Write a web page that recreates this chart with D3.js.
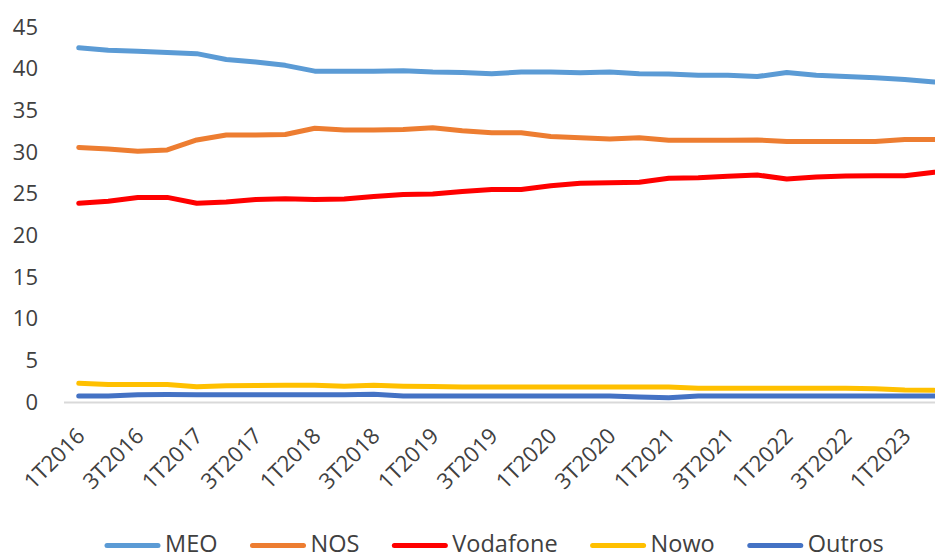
<!DOCTYPE html>
<html>
<head>
<meta charset="utf-8">
<script src="https://cdn.jsdelivr.net/npm/d3@7"></script>
<style>
  body { margin: 0; background: #fff; }
  svg { display: block; font-family: "Open Sans", sans-serif; }
</style>
</head>
<body>
<svg width="935" height="556"></svg>
<script>
"use strict";

// Data.

var quarters = ["1T2016","2T2016","3T2016","4T2016","1T2017","2T2017","3T2017","4T2017",
                "1T2018","2T2018","3T2018","4T2018","1T2019","2T2019","3T2019","4T2019",
                "1T2020","2T2020","3T2020","4T2020","1T2021","2T2021","3T2021","4T2021",
                "1T2022","2T2022","3T2022","4T2022","1T2023","2T2023"];

var meo = [42.5, 42.2, 42.1, 41.95, 41.8, 41.1, 40.8, 40.4, 39.7, 39.7, 39.7, 39.75, 39.6, 39.55, 39.4,
           39.6, 39.6, 39.5, 39.6, 39.4, 39.35, 39.2, 39.2, 39.05, 39.55, 39.2, 39.05, 38.9, 38.7, 38.4];
var nos = [30.55, 30.35, 30.1, 30.25, 31.45, 32.05, 32.05, 32.1, 32.85, 32.65, 32.65, 32.7, 32.9, 32.55, 32.3,
           32.3, 31.85, 31.7, 31.55, 31.7, 31.4, 31.4, 31.4, 31.45, 31.25, 31.25, 31.25, 31.25, 31.5, 31.5];
var vodafone = [23.85, 24.1, 24.55, 24.55, 23.85, 24.0, 24.3, 24.4, 24.3, 24.35, 24.65, 24.9, 24.95, 25.25, 25.5,
                25.5, 25.95, 26.25, 26.3, 26.36, 26.84, 26.92, 27.08, 27.24, 26.76, 27.0, 27.12, 27.16, 27.16, 27.56];
var nowo = [2.24, 2.1, 2.1, 2.1, 1.84, 1.96, 1.98, 2.02, 2.02, 1.9, 2.0, 1.9, 1.85, 1.8, 1.8,
            1.8, 1.8, 1.8, 1.8, 1.8, 1.8, 1.65, 1.65, 1.65, 1.65, 1.65, 1.65, 1.6, 1.45, 1.4];
var outros = [0.72, 0.72, 0.88, 0.9, 0.88, 0.88, 0.88, 0.88, 0.88, 0.88, 0.92, 0.72, 0.72, 0.72, 0.72,
              0.72, 0.72, 0.72, 0.72, 0.6, 0.5, 0.72, 0.72, 0.72, 0.72, 0.72, 0.72, 0.72, 0.72, 0.72];

var seriesNames = ["MEO", "NOS", "Vodafone", "Nowo", "Outros"];
var seriesValues = [meo, nos, vodafone, nowo, outros];
var seriesColors = ["#5B9BD5", "#ED7D31", "#FF0000", "#FFC000", "#4472C4"];

var yTicks = [0, 5, 10, 15, 20, 25, 30, 35, 40, 45];

// Layout.

var svg = d3.select("svg");
var PlotLeft = 64;
var Band = 29.5;
var PlotTop = 27;
var PlotBottom = 402;
var TextColor = "#404040";
var LineWidth = 5;

var x = d3.scaleBand()
    .domain(quarters)
    .range([PlotLeft, PlotLeft + Band*quarters.length]);

var y = d3.scaleLinear()
    .domain([0, 45])
    .range([PlotBottom, PlotTop]);

var cx = function(q){ return x(q) + x.bandwidth()/2; };

// Y axis labels (no axis line, no gridlines).

var yAxis = svg.append("g")
    .attr("transform", "translate(40,0)")
    .call(d3.axisLeft(y).tickValues(yTicks).tickSize(0).tickPadding(2));
yAxis.select(".domain").remove();
yAxis.selectAll("text")
    .attr("fill", TextColor)
    .style("font-size", "22px")
    .style("font-family", "'Open Sans', sans-serif");

// X axis line and rotated labels.

svg.append("line")
    .attr("x1", PlotLeft).attr("x2", PlotLeft + Band*quarters.length)
    .attr("y1", PlotBottom + 0.5).attr("y2", PlotBottom + 0.5)
    .style("stroke", "#D9D9D9")
    .style("stroke-width", 2);

var labelled = quarters.filter(function(d, i){ return i % 2 === 0; });

svg.append("g").selectAll("text")
    .data(labelled)
    .enter()
    .append("text")
        .attr("transform", function(d){ return "translate(" + (cx(d) + 2) + "," + (PlotBottom + 30) + ") rotate(-45)"; })
        .attr("text-anchor", "end")
        .attr("dy", "0.35em")
        .attr("fill", TextColor)
        .style("font-size", "22px")
        .text(function(d){ return d; });

// Lines.

var line = d3.line()
    .x(function(d, i){ return cx(quarters[i]); })
    .y(function(d){ return y(d); });

svg.append("g").selectAll("path")
    .data(seriesValues)
    .enter()
    .append("path")
        .attr("d", line)
        .attr("fill", "none")
        .style("stroke", function(d, i){ return seriesColors[i]; })
        .style("stroke-width", LineWidth)
        .style("stroke-linejoin", "round")
        .style("stroke-linecap", "round");

// Legend.

var legend = svg.append("g");
var lx = 105;
var LegendY = 543.5;
seriesNames.forEach(function(name, i){
    legend.append("line")
        .attr("x1", lx + 2).attr("x2", lx + 53)
        .attr("y1", LegendY + 2).attr("y2", LegendY + 2)
        .style("stroke", seriesColors[i])
        .style("stroke-width", LineWidth)
        .style("stroke-linecap", "round");
    var t = legend.append("text")
        .attr("x", lx + 60)
        .attr("y", LegendY)
        .attr("dy", "0.35em")
        .attr("fill", TextColor)
        .style("font-size", "23.5px")
        .text(name);
    lx += 60 + t.node().getComputedTextLength() + 33;
});
</script>
</body>
</html>
